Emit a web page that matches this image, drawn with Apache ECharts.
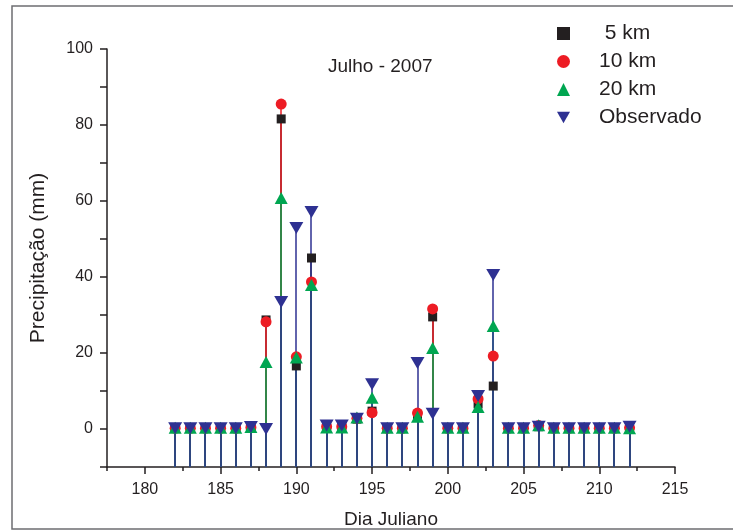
<!DOCTYPE html>
<html>
<head>
<meta charset="utf-8">
<script src="https://cdn.jsdelivr.net/npm/echarts@6/dist/echarts.min.js"></script>
<style>
  html, body { margin: 0; padding: 0; background: #fff; }
  #chart { width: 733px; height: 531px; }
</style>
</head>
<body>
<div id="chart"></div>
<script>
// julian days, one point per day
var days = [182, 183, 184, 185, 186, 187, 188, 189, 190, 191, 192, 193, 194, 195, 196, 197,
            198, 199, 200, 201, 202, 203, 204, 205, 206, 207, 208, 209, 210, 211, 212];

var km5  = [0.2, 0.2, 0.2, 0.2, 0.2, 0.5, 28.7, 81.6, 16.6, 45.0, 0.8, 0.7, 2.6, 4.7, 0.2, 0.2,
            3.8, 29.5, 0.2, 0.2, 6.6, 11.3, 0.2, 0.2, 0.6, 0.2, 0.2, 0.2, 0.2, 0.2, 0.3];
var km10 = [0.2, 0.2, 0.2, 0.2, 0.2, 0.4, 28.2, 85.5, 19.0, 38.7, 0.6, 0.6, 2.8, 4.3, 0.2, 0.2,
            4.2, 31.6, 0.2, 0.2, 7.9, 19.2, 0.2, 0.2, 0.9, 0.2, 0.2, 0.2, 0.2, 0.2, 0.3];
var km20 = [0.3, 0.3, 0.3, 0.3, 0.3, 0.5, 17.6, 60.8, 18.8, 37.9, 0.4, 0.4, 3.0, 8.2, 0.3, 0.3,
            3.2, 21.3, 0.3, 0.3, 5.8, 27.1, 0.3, 0.3, 1.0, 0.3, 0.3, 0.3, 0.3, 0.3, 0.2];
var obs  = [0.2, 0.2, 0.2, 0.2, 0.2, 0.5, 0.0, 33.4, 52.9, 57.1, 0.9, 0.9, 2.7, 11.8, 0.2, 0.2,
            17.4, 4.0, 0.2, 0.2, 8.7, 40.5, 0.2, 0.2, 0.6, 0.2, 0.2, 0.2, 0.2, 0.2, 0.6];

var xMajorTicks = [180, 185, 190, 195, 200, 205, 210, 215];
var xMinorTicks = [177.5, 182.5, 187.5, 192.5, 197.5, 202.5, 207.5, 212.5];

var downTri = 'path://M0,0 L10,0 L5,9 Z';
var txt = '#231f20';
var font = '"Liberation Sans", Arial, sans-serif';

var defs = [
    { name: ' 5 km',     values: km5,  color: '#231f20', symbol: 'rect',     size: 9 },
    { name: '10 km',     values: km10, color: '#ed1c24', symbol: 'circle',   size: 11 },
    { name: '20 km',     values: km20, color: '#00a651', symbol: 'triangle', size: [13, 12] },
    { name: 'Observado', values: obs,  color: '#2e3192', symbol: downTri,    size: [14, 12] }
];

function pairs(vals) {
    return days.map(function (d, i) { return [d, vals[i]]; });
}

var series = [];
// drop lines first (z 1..4 so later series cover earlier ones), markers above all
defs.forEach(function (s, k) {
    series.push({
        type: 'custom',
        name: s.name + '-stem',
        z: 1 + k,
        silent: true,
        data: pairs(s.values),
        renderItem: function (params, api) {
            var x = api.value(0);
            var p0 = api.coord([x, -10]);
            var p1 = api.coord([x, api.value(1)]);
            var px = Math.round(p0[0]);
            return {
                type: 'line',
                shape: { x1: px, y1: p0[1], x2: px, y2: p1[1] },
                style: { stroke: s.color, lineWidth: 1.5 }
            };
        }
    });
});
defs.forEach(function (s, k) {
    series.push({
        type: 'scatter',
        name: s.name,
        z: 10 + k,
        symbol: s.symbol,
        symbolSize: s.size,
        itemStyle: { color: s.color, opacity: 1 },
        data: pairs(s.values)
    });
});

var chart = echarts.init(document.getElementById('chart'), null, { renderer: 'canvas' });

chart.setOption({
    animation: false,
    backgroundColor: '#fff',
    textStyle: { fontFamily: font, color: txt },
    title: {
        text: 'Julho - 2007',
        left: 328,
        top: 57,
        padding: 0,
        textStyle: { fontFamily: font, fontSize: 19, fontWeight: 'normal', color: txt }
    },
    legend: {
        orient: 'vertical',
        left: 552,
        top: 18,
        itemWidth: 13,
        itemHeight: 13,
        itemGap: 7,
        data: defs.map(function (s) { return { name: s.name, icon: s.symbol }; }),
        textStyle: { fontFamily: font, fontSize: 21, color: txt, padding: [0, 0, 0, 24] }
    },
    graphic: [{
        type: 'rect',
        shape: { x: 12, y: 6, width: 740, height: 523 },
        style: { fill: null, stroke: '#6d6e71', lineWidth: 1.5 },
        silent: true
    }],
    grid: { left: 107, right: 58, top: 49, bottom: 64, containLabel: false, outerBoundsMode: 'none' },
    xAxis: [{
        type: 'value',
        min: 177.5,
        max: 215,
        position: 'bottom',
        name: 'Dia Juliano',
        nameLocation: 'middle',
        nameGap: 43,
        nameTextStyle: { fontFamily: font, fontSize: 19, color: txt },
        axisLine: { onZero: false, lineStyle: { color: txt, width: 1.5 } },
        axisTick: { customValues: xMajorTicks, length: 7, lineStyle: { color: txt, width: 1.5 } },
        axisLabel: { customValues: xMajorTicks, fontFamily: font, fontSize: 16, color: txt, margin: 15 },
        splitLine: { show: false }
    }, {
        type: 'value',
        min: 177.5,
        max: 215,
        position: 'bottom',
        axisLine: { show: false, onZero: false },
        axisTick: { customValues: xMinorTicks, length: 4, lineStyle: { color: txt, width: 1.5 } },
        axisLabel: { show: false },
        splitLine: { show: false }
    }],
    yAxis: {
        type: 'value',
        min: -10,
        max: 100,
        interval: 10,
        name: 'Precipitação (mm)',
        nameLocation: 'middle',
        nameGap: 58,
        nameTextStyle: { fontFamily: font, fontSize: 21, color: txt },
        axisLine: { show: true, onZero: false, lineStyle: { color: txt, width: 1.5 } },
        axisTick: { show: true, length: 7, lineStyle: { color: txt, width: 1.5 } },
        axisLabel: {
            fontFamily: font, fontSize: 16, color: txt, margin: 14,
            formatter: function (v) { return (v >= 0 && v % 20 === 0) ? String(v) : ''; }
        },
        splitLine: { show: false }
    },
    series: series
});
</script>
</body>
</html>
